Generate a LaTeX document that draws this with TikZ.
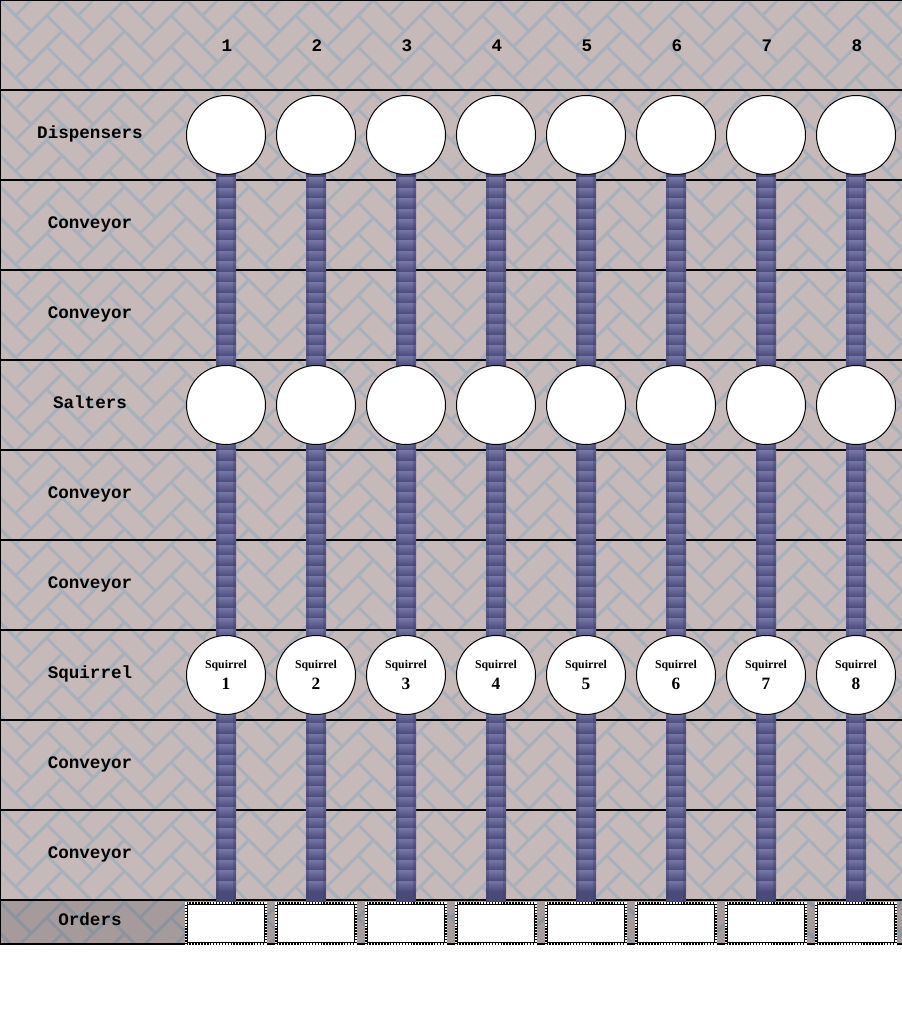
\documentclass[tikz,border=0pt]{standalone}
\usepackage{fontspec}
\setmonofont{Liberation Mono}
\newfontfamily\sqfont{Liberation Serif}
\usetikzlibrary{calc}
\definecolor{brickc}{RGB}{198,185,186}
\definecolor{mortarc}{RGB}{168,176,186}
\definecolor{convlight}{RGB}{118,118,166}
\definecolor{convdark}{RGB}{74,74,122}
\definecolor{convedge}{RGB}{60,60,100}
\pgfdeclarelayer{bg}
\pgfdeclarelayer{conv}
\pgfsetlayers{bg,conv,main}
\tikzset{
  lbl/.style={font=\ttfamily\bfseries\fontsize{13.2}{14}\selectfont, anchor=base, inner sep=0pt},
  station/.style={circle, draw=black, line width=0.75pt, fill=white, minimum size=59.25pt, inner sep=0pt},
  sqname/.style={font=\sqfont\bfseries\fontsize{8.9}{10}\selectfont, anchor=base, inner sep=0pt},
  sqnum/.style={font=\sqfont\bfseries\fontsize{13}{14}\selectfont, anchor=base, inner sep=0pt},
  orderbox/.style={rectangle, fill=white, draw=white, line width=2.25pt, minimum width=59.25pt, minimum height=30pt, inner sep=0pt,
    postaction={draw=black, line width=2.25pt, dash pattern=on 1.1pt off 1.1pt}},
  orderinner/.style={draw=black, line width=0.75pt},
  mortar/.style={draw=mortarc, line width=2.1pt, line join=round},
  rowline/.style={draw=black, line width=1.5pt},
  stripe/.style={top color=convlight, bottom color=convdark},
  convside/.style={fill=convedge, opacity=0.35},
}
\begin{document}
\begin{tikzpicture}[x=0.75pt,y=-0.75pt]
\useasboundingbox (0,0) rectangle (902,1021);
\begin{pgfonlayer}{bg}
\fill[white] (0,0) rectangle (902,1021);
\begin{scope}
  \clip (0,0) rectangle (902,944);
  \fill[brickc] (0,0) rectangle (902,944);
  \foreach \i in {-3,...,31}{
    \draw[mortar] \foreach \j in {-1,...,15}{
      ({62.23*\j},{31.11*\i}) -- ++(31.11,31.11) -- ++(-15.556,15.556) -- ++(-31.11,-31.11) -- cycle
      ({62.23*\j-15.556},{31.11*\i+15.556}) -- ++(15.556,15.556) -- ++(-31.11,31.11) -- ++(-15.556,-15.556) -- cycle };
  }
  \fill[black, opacity=0.16] (0,900) rectangle (902,944);
\end{scope}
\foreach \y in {90,180,...,900}{ \draw[rowline] (0,\y) -- (902,\y); }
\draw[rowline] (902,0) -- (0,0) -- (0,944) -- (902,944);
\end{pgfonlayer}

% row labels
\node[lbl] (lDisp) at (90,138) {Dispensers};
\node[lbl] (lC1) at (90,228) {Conveyor};
\node[lbl] (lC2) at (90,318) {Conveyor};
\node[lbl] (lSalt) at (90,408) {Salters};
\node[lbl] (lC3) at (90,498) {Conveyor};
\node[lbl] (lC4) at (90,588) {Conveyor};
\node[lbl] (lSq) at (90,678) {Squirrel};
\node[lbl] (lC5) at (90,768) {Conveyor};
\node[lbl] (lC6) at (90,858) {Conveyor};
\node[lbl] (lOrd) at (90,925) {Orders};

\foreach \k in {1,...,8}{
  \pgfmathsetmacro\cx{136+90*\k}
  \node[lbl] (h\k) at (\cx+1,51) {\k};
  \node[station] (d\k) at (\cx,135) {};
  \node[station] (s\k) at (\cx,405) {};
  \node[station] (q\k) at (\cx,675) {};
  \node[sqname] (qn\k) at (\cx,668) {Squirrel};
  \node[sqnum] (qk\k) at (\cx,689) {\k};
  \node[orderbox] (o\k) at (\cx,923.5) {};
  \draw[orderinner] ($(o\k.south west)+(2.6,-2.6)$) rectangle ($(o\k.north east)+(-2.6,2.6)$);
  \begin{pgfonlayer}{conv}
    \fill[convdark] ($(d\k.center)+(-10,0)$) rectangle ($(o\k.north)+(10,0)$);
    \foreach \y in {177.5,188,...,890}{
      \shade[stripe] (\cx-10,\y) rectangle (\cx+10,\y+10.5);
    }
    \fill[convside] ($(d\k.center)+(-10,0)$) rectangle ($(o\k.north)+(-7,0)$);
    \fill[convside] ($(d\k.center)+(7,0)$) rectangle ($(o\k.north)+(10,0)$);
  \end{pgfonlayer}
}
\end{tikzpicture}
\end{document}
